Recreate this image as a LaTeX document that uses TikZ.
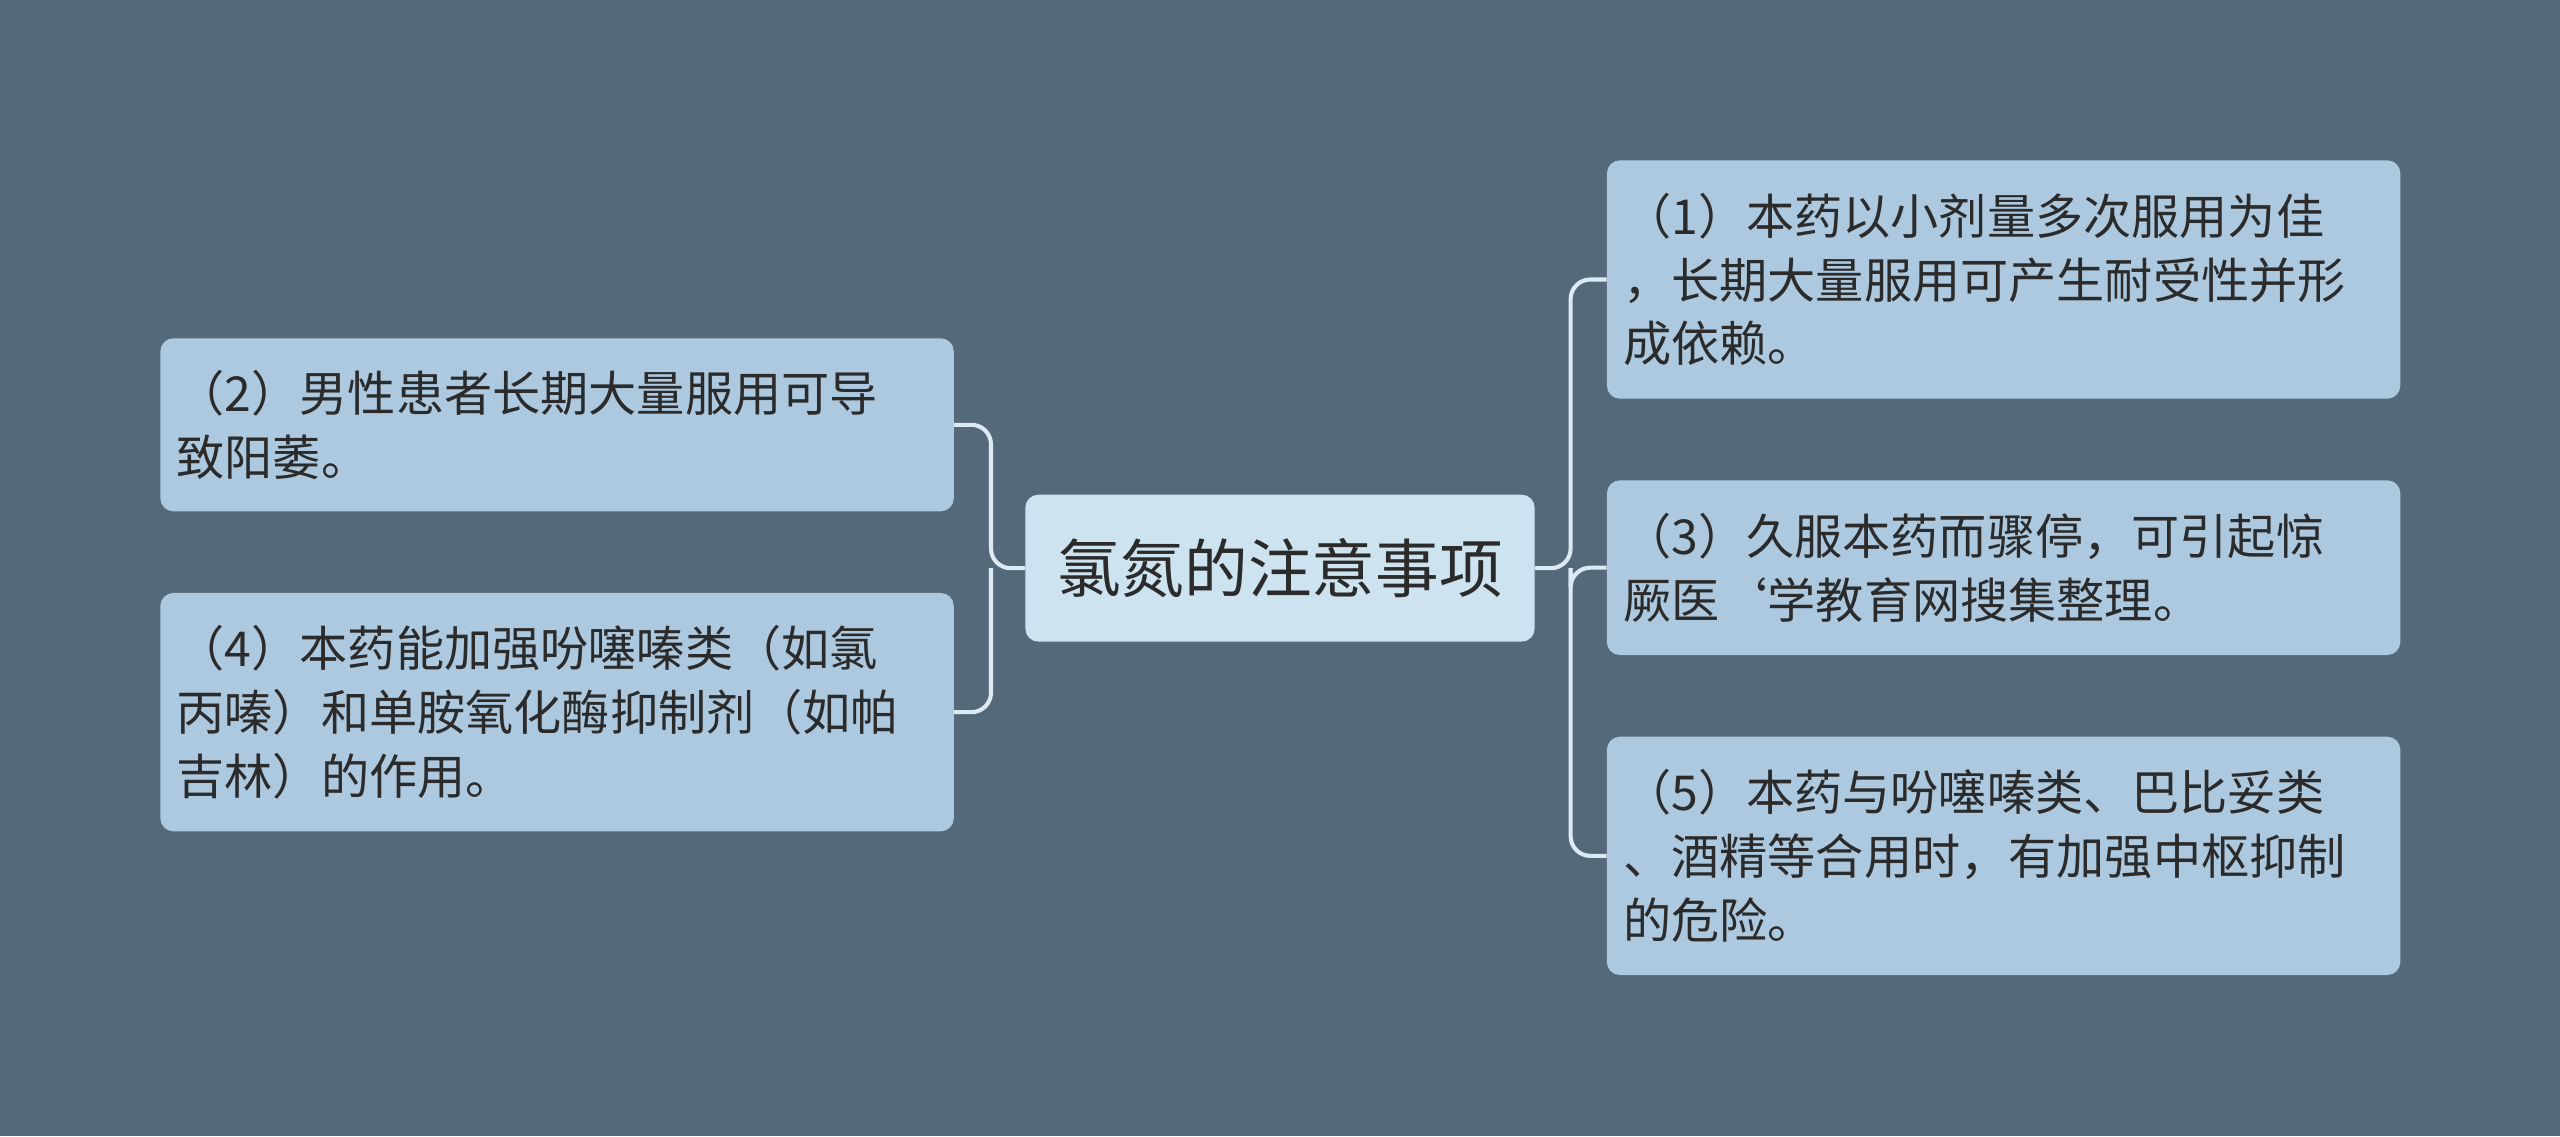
\documentclass[tikz,border=0pt]{standalone}
\usepackage{fontspec}
\setmainfont{Noto Sans CJK SC}
\definecolor{bgc}{HTML}{546A7A}
\definecolor{boxc}{HTML}{ADC9DF}
\definecolor{rootc}{HTML}{CDE3F0}
\definecolor{linec}{HTML}{DCEAF3}
\definecolor{txtc}{HTML}{2B2B2B}
\tikzset{
  leaf/.style={anchor=north west, fill=boxc, rounded corners=8pt, text=txtc,
    minimum width=486pt, text width=466pt, inner xsep=10pt, align=left,
    font=\fontsize{29.5pt}{39pt}\selectfont},
  root/.style={fill=rootc, rounded corners=8pt, text=txtc, minimum width=312pt,
    minimum height=90pt, font=\fontsize{39pt}{42pt}\selectfont},
  conn/.style={draw=linec, line width=2.5pt, rounded corners=12pt}
}
\begin{document}
\begin{tikzpicture}[x=1pt,y=-1pt]
\fill[bgc] (0,0) rectangle (1568,696);

\node[root] (c) at (784,348) {氯氮的注意事项};

\node[leaf, minimum height=106pt] (l1) at (98,207) {（2）男性患者长期大量服用可导\\致阳萎。};
\node[leaf, minimum height=146pt] (l2) at (98,363) {（4）本药能加强吩噻嗪类（如氯\\丙嗪）和单胺氧化酶抑制剂（如帕\\吉林）的作用。};

\node[leaf, minimum height=146pt] (r1) at (984,98) {（1）本药以小剂量多次服用为佳\\，长期大量服用可产生耐受性并形\\成依赖。};
\node[leaf, minimum height=107pt] (r2) at (984,294) {（3）久服本药而骤停，可引起惊\\厥医`学教育网搜集整理。};
\node[leaf, minimum height=146pt] (r3) at (984,451) {（5）本药与吩噻嗪类、巴比妥类\\、酒精等合用时，有加强中枢抑制\\的危险。};

\coordinate (lbus) at (607,348);
\coordinate (rbus) at (962,348);
\draw[conn] (c.west) -- (lbus) |- (l1.east);
\draw[conn] (lbus) |- (l2.east);
\draw[conn] (c.east) -- (rbus) |- (r1.west);
\draw[conn] (rbus) |- (r2.west);
\draw[conn] (rbus) |- (r3.west);
\end{tikzpicture}
\end{document}
